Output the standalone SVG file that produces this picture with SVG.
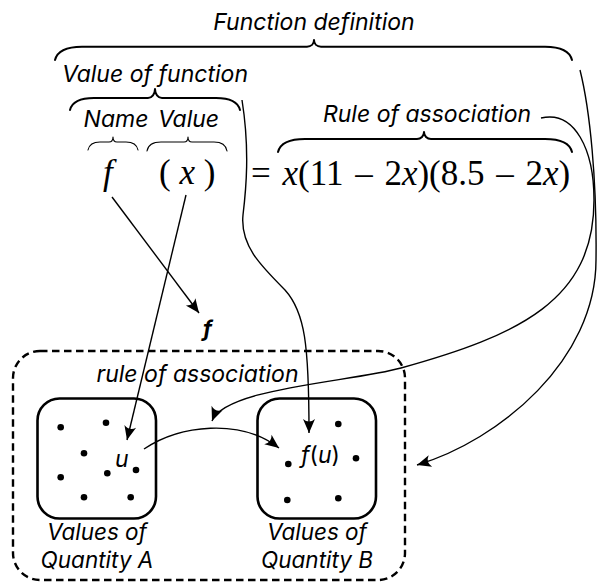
<svg xmlns="http://www.w3.org/2000/svg" width="597" height="584" viewBox="0 0 597 584">
<style>
.lbl{font-family:Inter,"DejaVu Sans",sans-serif;font-style:italic;font-size:23px;fill:#000}
.sm{font-size:22.5px}
.mid{text-anchor:middle}
.math{font-family:"Liberation Serif","Times New Roman",serif;font-size:35px;fill:#000}
.it{font-style:italic}
.brace{fill:none;stroke:#000;stroke-width:2;stroke-linecap:round;stroke-linejoin:round}
.brace.thin{stroke-width:1.1}
.conn{fill:none;stroke:#000;stroke-width:1.4;marker-end:url(#ah)}
.box{fill:none;stroke:#000;stroke-width:2.6}
.dash{fill:none;stroke:#000;stroke-width:2.4;stroke-dasharray:7.5 4.5}
.dot{fill:#000}
</style>
<defs>
<marker id="ah" viewBox="-15 -7 16 14" refX="0" refY="0" markerWidth="16" markerHeight="14" orient="auto" markerUnits="userSpaceOnUse">
<path d="M0,0 L-14,-6 Q-9,0 -14,6 Z" fill="#000"/>
</marker>
</defs>
<rect width="597" height="584" fill="#fff"/>

<g id="function-definition">
<text class="lbl mid" x="314" y="30">Function definition</text>
<path class="brace" d="M55,60 C57,52 65,46.7 82,46.7 L307,46.7 C311,46.7 314,44 314,40 C314,44 317,46.7 321,46.7 L545,46.7 C562,46.7 570,52 572,60"/>
</g>

<g id="value-of-function">
<text class="lbl mid" x="155" y="82">Value of function</text>
<path class="brace" d="M70,110 C72,102 79,98 94,98 L148,98 C152,98 155,94 155,89 C155,94 158,98 162,98 L216,98 C231,98 238,102 240,110"/>
</g>

<g id="name">
<text class="lbl mid" x="116" y="127">Name</text>
<path class="brace thin" d="M88,150 C89,145 93,142 100,142 L109,142 C111.5,142 113,140 113,137 C113,140 114.5,142 117,142 L126,142 C133,142 137,145 138,150"/>
</g>

<g id="value">
<text class="lbl mid" x="188.5" y="127">Value</text>
<path class="brace thin" d="M147,151 C148,145 153,142 161,142 L184,142 C186.5,142 188,140 188,137 C188,140 189.5,142 192,142 L214,142 C222,142 226,145 227,151"/>
</g>

<g id="rule-of-association-label">
<text class="lbl mid" x="427" y="122">Rule of association</text>
<path class="brace" d="M278,152 C280,144 288,139 305,139 L417,139 C421,139 424,136 424,132 C424,136 427,139 431,139 L545,139 C562,139 570,144 572,152"/>
</g>

<g id="equation">
<text class="math it" x="103" y="184">f</text>
<text class="math" x="159" y="184">( <tspan class="it">x</tspan> )</text>
<text class="math" x="251" y="185" word-spacing="3">= <tspan class="it">x</tspan>(11 – 2<tspan class="it">x</tspan>)(8.5 – 2<tspan class="it">x</tspan>)</text>
</g>

<g id="f-symbol">
<text x="203" y="336" style="font-family:Inter,'DejaVu Sans',sans-serif;font-style:italic;font-weight:bold;font-size:22px">f</text>
</g>

<g id="mapping">
<rect class="dash" x="13" y="351" width="392" height="229" rx="27"/>
<text class="lbl mid" x="197.5" y="382">rule of association</text>
</g>

<g id="quantity-a">
<rect class="box" x="37.5" y="398.5" width="118.5" height="120" rx="22"/>
<circle class="dot" cx="60.7" cy="427.3" r="3.3"/>
<circle class="dot" cx="106" cy="422.7" r="3.3"/>
<circle class="dot" cx="84" cy="453.3" r="3.3"/>
<circle class="dot" cx="60.7" cy="477.3" r="3.3"/>
<circle class="dot" cx="107.3" cy="473.3" r="3.3"/>
<circle class="dot" cx="136" cy="470" r="3.3"/>
<circle class="dot" cx="84" cy="497.3" r="3.3"/>
<circle class="dot" cx="130.7" cy="497.3" r="3.3"/>
<text class="lbl" x="115" y="467">u</text>
<text class="lbl sm mid" x="97" y="540">Values of</text>
<text class="lbl sm mid" x="97" y="568">Quantity A</text>
</g>

<g id="quantity-b">
<rect class="box" x="257.5" y="398.5" width="118.5" height="120" rx="22"/>
<circle class="dot" cx="338.3" cy="424" r="3.3"/>
<circle class="dot" cx="288.3" cy="464" r="3.3"/>
<circle class="dot" cx="356" cy="458.3" r="3.3"/>
<circle class="dot" cx="287.3" cy="500" r="3.3"/>
<circle class="dot" cx="338.3" cy="498.3" r="3.3"/>
<text class="lbl" x="301" y="463">f<tspan style="font-style:normal">(</tspan>u<tspan style="font-style:normal">)</tspan></text>
<text class="lbl sm mid" x="317" y="540">Values of</text>
<text class="lbl sm mid" x="317" y="568">Quantity B</text>
</g>

<g id="connectors">
<path class="conn" d="M112,197 L199,313"/>
<path class="conn" d="M186,195 L127,440"/>
<path class="conn" d="M144,449 C180,425 240,418 279,448"/>
<path class="conn" d="M541,118 C575,110 594,150 594,200 C594,300 520,335 401,368 C350,382 225,388 212,421"/>
<path class="conn" d="M580,70 C590,110 597,180 596,260 C596,360 500,440 417,465"/>
<path class="conn" d="M242,100 C250,150 246,190 243,215 C240,245 260,265 285,290 C305,312 309,345 309,433"/>
</g>
</svg>
